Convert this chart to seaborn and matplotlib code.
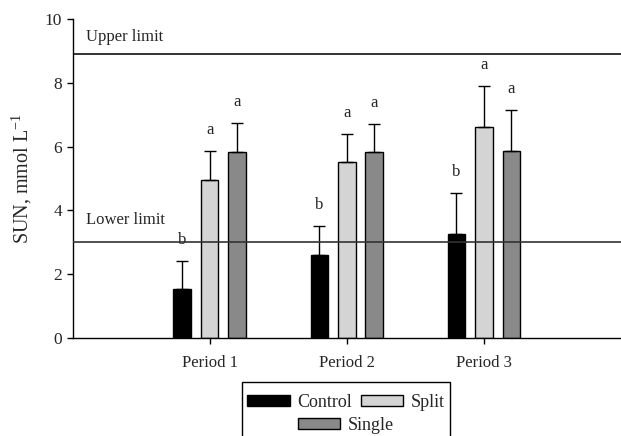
import matplotlib
matplotlib.use("Agg")
import matplotlib.pyplot as plt
import seaborn as sns
import pandas as pd
from matplotlib.patches import Patch, Rectangle

periods = ["Period 1", "Period 2", "Period 3"]
treatments = ["Control", "Split", "Single"]
control = [1.53, 2.61, 3.26]
split = [4.96, 5.51, 6.62]
single = [5.83, 5.82, 5.87]
control_err = [0.88, 0.91, 1.28]
split_err = [0.90, 0.89, 1.28]
single_err = [0.90, 0.90, 1.27]
control_letters = ["b", "b", "b"]
split_letters = ["a", "a", "a"]
single_letters = ["a", "a", "a"]
upper_limit = 8.9
lower_limit = 3.0
yticks = [0, 2, 4, 6, 8, 10]

colors = {"Control": "#000000", "Split": "#d4d4d4", "Single": "#898989"}

sns.set_style("ticks")
plt.rcParams["font.family"] = ["Liberation Serif", "DejaVu Serif"]
plt.rcParams["mathtext.fontset"] = "custom"
plt.rcParams["mathtext.rm"] = "Liberation Serif"
plt.rcParams["mathtext.it"] = "Liberation Serif:italic"

values = {"Control": control, "Split": split, "Single": single}
errs = {"Control": control_err, "Split": split_err, "Single": single_err}
letters = {"Control": control_letters, "Split": split_letters, "Single": single_letters}

rows = []
for t in treatments:
    for p, v in zip(periods, values[t]):
        rows.append({"period": p, "treatment": t, "value": v})
df = pd.DataFrame(rows)

fig = plt.figure(figsize=(6.21, 4.36), dpi=100)
ax = fig.add_axes([72.5 / 621, 1 - 338 / 436, 1 - 72.5 / 621, (338 - 19) / 436])

sns.barplot(data=df, x="period", y="value", hue="treatment", order=periods,
            hue_order=treatments, palette=colors, width=0.6, gap=0.36,
            edgecolor="black", linewidth=1.0, errorbar=None, legend=False,
            saturation=1, ax=ax)

for t, cont in zip(treatments, ax.containers):
    for bar, e, lab in zip(cont.patches, errs[t], letters[t]):
        xc = bar.get_x() + bar.get_width() / 2
        h = bar.get_height()
        ax.errorbar([xc], [h], yerr=[[0], [e]], fmt="none", ecolor="black",
                    elinewidth=1.0, capsize=4, capthick=1.0, zorder=1)
        ax.text(xc, h + e + 0.66, lab, ha="center", va="center", fontsize=12)

ax.axhline(upper_limit, color="#111111", lw=1.2, zorder=5)
ax.axhline(lower_limit, color="#333333", lw=1.2, zorder=5)
ax.text(0.025, 9.44, "Upper limit", transform=ax.get_yaxis_transform(),
        ha="left", va="center", fontsize=12)
ax.text(0.025, 3.70, "Lower limit", transform=ax.get_yaxis_transform(),
        ha="left", va="center", fontsize=12)

ax.set_xlim(-1.0, 3.0)
ax.set_ylim(0, 10)
ax.set_yticks(yticks)
ax.set_yticklabels([str(v) for v in yticks], fontsize=12.5)
ax.tick_params(axis="both", direction="out", length=4, width=1, color="black")
ax.tick_params(axis="x", pad=8, labelsize=12)
ax.set_xlabel("")
ax.set_ylabel("SUN, mmol L$^{-1}$", fontsize=14.5, labelpad=8)
for s in ["top", "right"]:
    ax.spines[s].set_visible(False)
for s in ["left", "bottom"]:
    ax.spines[s].set_linewidth(1.0)
    ax.spines[s].set_color("black")

def handle(t):
    return Patch(facecolor=colors[t], edgecolor="black", linewidth=1.0, label=t)

leg_kw = dict(frameon=False, fontsize=13, handlelength=2.35, handleheight=0.55,
              handletextpad=0.42, columnspacing=0.5, borderpad=0, borderaxespad=0)
leg1 = fig.legend(handles=[handle("Control"), handle("Split")], ncol=2,
                  loc="center", bbox_to_anchor=(346 / 621, 1 - 402 / 436), **leg_kw)
leg2 = fig.legend(handles=[handle("Single")], ncol=1,
                  loc="center", bbox_to_anchor=(346 / 621, 1 - 425 / 436), **leg_kw)
fig.patches.append(Rectangle((242 / 621, -0.05), (450 - 242) / 621, 0.05 + (436 - 382) / 436,
                             transform=fig.transFigure, fill=False, edgecolor="black",
                             linewidth=1.0))

fig.savefig("out.png", dpi=100)
